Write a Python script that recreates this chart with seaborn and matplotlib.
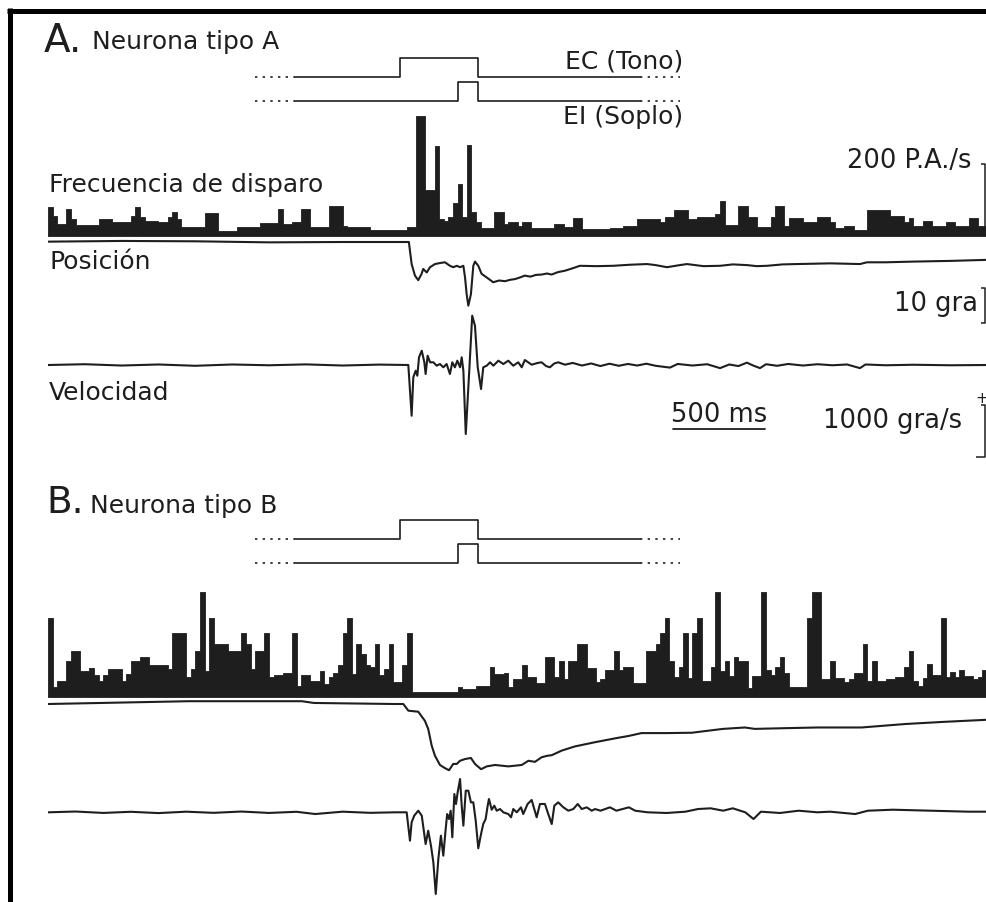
import matplotlib
matplotlib.use("Agg")
import matplotlib.pyplot as plt
from matplotlib.lines import Line2D
import numpy as np
import pandas as pd
import seaborn as sns

# time base (ms, 0 = tone onset)
T_START, T_END = -1900, 3200
BIN_MS = 25

# stimuli (ms)
TONE_ON, TONE_OFF = 10, 435
PUFF_ON, PUFF_OFF = 325, 435
STIM_START, STIM_END = -560, 1315
DOT_MS = 215

# firing rate histograms (P.A./s), one value per 25 ms bin
rate_a = [
    83, 57, 34, 34, 77, 49, 31, 31, 31, 31,
    31, 49, 49, 49, 40, 40, 40, 40, 57, 83,
    54, 43, 43, 43, 40, 40, 54, 69, 49, 26,
    26, 26, 26, 26, 66, 66, 66, 14, 14, 14,
    14, 26, 26, 26, 26, 26, 37, 37, 37, 37,
    77, 34, 34, 40, 40, 77, 77, 26, 26, 26,
    26, 86, 86, 86, 29, 26, 26, 26, 26, 26,
    17, 17, 17, 17, 17, 17, 17, 17, 26, 26,
    343, 343, 131, 131, 257, 49, 43, 54, 94, 149,
    54, 260, 69, 40, 23, 23, 23, 69, 69, 34,
    40, 40, 29, 40, 40, 23, 23, 23, 23, 23,
    34, 34, 26, 26, 51, 51, 20, 20, 20, 20,
    20, 20, 23, 23, 23, 29, 29, 29, 49, 49,
    49, 49, 49, 40, 54, 54, 74, 74, 74, 49,
    49, 54, 54, 54, 54, 63, 100, 31, 31, 31,
    86, 86, 54, 54, 26, 26, 26, 54, 86, 86,
    29, 51, 51, 51, 40, 40, 40, 54, 54, 54,
    40, 23, 23, 29, 29, 17, 17, 17, 74, 74,
    74, 74, 74, 57, 57, 57, 40, 51, 29, 29,
    43, 43, 29, 29, 29, 40, 40, 29, 29, 29,
    51, 51, 29, 29,
]
rate_b = [
    226, 29, 46, 46, 103, 131, 131, 74, 74, 83,
    63, 46, 63, 80, 80, 80, 46, 66, 103, 103,
    114, 114, 91, 91, 91, 91, 80, 183, 183, 183,
    57, 80, 131, 300, 74, 226, 151, 151, 151, 131,
    131, 131, 183, 151, 80, 131, 131, 183, 57, 63,
    63, 69, 69, 183, 31, 63, 63, 46, 46, 74,
    37, 57, 69, 91, 183, 226, 66, 151, 123, 91,
    86, 151, 63, 80, 151, 43, 43, 91, 183, 14,
    14, 14, 14, 14, 14, 14, 14, 14, 14, 29,
    23, 23, 23, 31, 31, 31, 86, 66, 66, 69,
    29, 51, 51, 91, 57, 57, 40, 40, 114, 114,
    57, 103, 51, 103, 103, 151, 151, 83, 83, 43,
    51, 77, 77, 131, 77, 86, 86, 40, 40, 40,
    131, 131, 151, 183, 226, 103, 57, 86, 183, 54,
    183, 226, 46, 46, 86, 300, 74, 103, 60, 114,
    103, 103, 26, 60, 60, 300, 77, 63, 86, 114,
    69, 29, 29, 29, 29, 226, 300, 300, 51, 51,
    103, 54, 54, 43, 51, 69, 69, 151, 46, 103,
    46, 46, 51, 51, 57, 57, 86, 131, 46, 31,
    54, 94, 63, 63, 226, 57, 71, 57, 77, 60,
    60, 51, 57, 77,
]

# eyelid position (deg) and velocity (deg/s), neuron A
pos_a_t = [-1900, -1500, -1100, -700, -300, 0, 60, 75, 93, 111, 129, 138, 157, 175,
           202, 230, 256, 283, 301, 320, 338, 356, 365, 374, 383, 397, 410, 419, 437,
           455, 482, 518, 550, 582, 610, 636, 660, 690, 720, 750, 781, 810, 835, 870,
           908, 950, 989, 1080, 1169, 1260, 1353, 1400, 1462, 1520, 1570, 1660, 1750,
           1820, 1896, 1950, 2005, 2090, 2168, 2260, 2347, 2430, 2510, 2548, 2650,
           2798, 3000, 3200]
pos_a = [0.1, 0.3, 0.2, -0.1, 0.0, 0.0, 0.0, -6.3, -9.6, -10.9, -9.1, -7.7, -8.7, -7.2,
         -6.3, -6.0, -5.8, -6.8, -7.2, -6.8, -7.2, -6.8, -10.1, -15.0, -18.2, -14.9, -6.8,
         -5.6, -6.8, -9.1, -10.1, -11.5, -11.0, -11.2, -10.8, -10.6, -10.2, -9.6, -9.9,
         -9.4, -9.3, -9.0, -9.3, -8.6, -8.2, -7.5, -6.8, -6.9, -6.8, -6.5, -6.3, -6.6,
         -7.2, -6.7, -6.3, -6.9, -6.8, -6.4, -6.6, -6.9, -6.8, -6.4, -6.3, -6.2, -6.1,
         -6.2, -6.3, -5.8, -5.8, -5.6, -5.4, -5.1]
vel_a_t = [-1900, -1700, -1500, -1300, -1100, -900, -700, -500, -300, -100, 57, 75, 84,
           97, 106, 115, 130, 144, 151, 162, 175, 193, 211, 229, 247, 265, 283, 296, 310,
           323, 338, 347, 356, 369, 387, 404, 419, 434, 452, 464, 483, 501, 519, 546,
           573, 600, 627, 654, 673, 690, 727, 760, 781, 805, 826, 850, 871, 908, 950,
           1000, 1050, 1100, 1150, 1200, 1250, 1300, 1350, 1400, 1478, 1520, 1600, 1680,
           1750, 1800, 1850, 1896, 1930, 1967, 2000, 2060, 2120, 2200, 2280, 2360, 2440,
           2510, 2540, 2650, 2800, 3000, 3200]
vel_a = [0, 15, -10, 10, -15, 10, -5, 12, -10, 8, 0, -975, -237, -110, -206, 148, 275,
         52, -173, 179, 52, 52, -13, 19, -44, 19, -173, 52, -44, 83, -44, 148, -110,
         -1327, -173, 948, 756, -44, -462, -44, -13, 52, -13, 83, 19, 83, -13, 52, -44,
         96, 6, 40, 52, -20, -44, 30, 52, 6, 40, -10, 30, -20, 25, -15, 20, -10, 25,
         -15, -50, 20, -10, 15, -60, 10, -20, 45, -10, -60, 15, -15, 20, -10, 15, -5,
         10, -60, 10, -5, 5, -5, 0]

# eyelid position (deg) and velocity (deg/s), neuron B
pos_b_t = [-1900, -1134, -521, -456, -15, 30, 57, 111, 147, 165, 184, 202, 229, 256,
           278, 301, 320, 338, 365, 397, 419, 452, 483, 528, 600, 673, 709, 745, 781,
           809, 836, 890, 962, 1071, 1180, 1255, 1323, 1460, 1596, 1766, 1885, 1938,
           2100, 2279, 2518, 2758, 2963, 3200]
pos_b = [0.0, 0.8, 0.8, 0.3, 0.0, 0.0, -1.9, -2.2, -4.8, -7.1, -11.9, -14.8, -17.4,
         -18.3, -18.9, -17.1, -17.1, -16.2, -15.7, -15.4, -17.1, -18.6, -17.8, -17.4,
         -17.8, -17.4, -16.2, -16.5, -15.2, -14.8, -14.6, -13.3, -12.1, -10.9, -9.8,
         -9.1, -8.3, -8.3, -8.2, -7.1, -6.7, -7.1, -6.9, -6.7, -6.7, -5.7, -5.1, -4.5]
vel_b_t = [-1900, -1750, -1600, -1450, -1300, -1150, -1000, -850, -700, -550, -449, -300,
           -150, -15, 48, 66, 75, 89, 111, 130, 151, 165, 180, 193, 206, 220, 234, 247,
           260, 268, 278, 287, 296, 307, 316, 325, 338, 347, 356, 369, 383, 397, 410,
           423, 437, 452, 464, 477, 488, 495, 510, 524, 537, 555, 573, 600, 615, 627,
           646, 669, 681, 705, 727, 741, 754, 772, 799, 817, 836, 850, 871, 899, 926,
           953, 977, 999, 1026, 1053, 1071, 1101, 1152, 1187, 1255, 1289, 1357, 1460,
           1562, 1630, 1699, 1767, 1819, 1887, 1932, 1972, 2075, 2177, 2279, 2348,
           2484, 2553, 2689, 2895, 3100, 3200]
vel_b = [0, 15, -12, 10, -15, 12, -10, 15, -12, 10, -33, 12, -10, 0, 0, -546, -192, -65,
         31, -65, -610, -354, -642, -962, -1571, -898, -449, -834, -321, -33, -129, 31,
         -481, 352, 160, 384, 640, 127, -257, 416, 416, 192, 192, -161, -692, -417, -225,
         -129, 127, 256, 50, 127, 31, 63, 0, -33, -96, 63, 0, 96, -33, 160, 237, 63,
         -96, 160, 160, -33, -225, 127, 192, 96, 31, 63, 160, 63, 96, 31, 63, 31, 96,
         31, 96, 31, 0, -13, 12, 63, 77, 31, 77, 0, -129, 12, -13, 31, 0, 12, -33, 31,
         50, 31, 12, 12]

# scale bars
SCALE_RATE = 200
SCALE_POS = 10
SCALE_VEL = 1000
SCALE_TIME = 500

W, H = 987, 903
INK = "#1e1e1e"
LEFT, RIGHT = 48, 987

sns.set_theme(style="white")
plt.rcParams["font.family"] = ["DejaVu Sans"]

fig = plt.figure(figsize=(W / 100, H / 100), dpi=100)
fig.patch.set_facecolor("white")


def panel_axes(top, bottom, ylim):
    ax = fig.add_axes([LEFT / W, 1 - bottom / H, (RIGHT - LEFT) / W, (bottom - top) / H])
    ax.set_xlim(T_START, T_END)
    ax.set_ylim(*ylim)
    ax.axis("off")
    ax.patch.set_alpha(0)
    return ax


def ftext(x, y, s, size=18, ha="left"):
    fig.text(x / W, 1 - y / H, s, fontsize=size, ha=ha, va="baseline", color=INK)


def draw_stim(ax):
    for on, off, level in [(TONE_ON, TONE_OFF, 0.533), (PUFF_ON, PUFF_OFF, 0.133)]:
        high = level + 0.317
        sns.lineplot(x=[STIM_START, on, on, off, off, STIM_END],
                     y=[level, level, high, high, level, level],
                     ax=ax, sort=False, estimator=None, color=INK, lw=1.2)
        for a, b in [(STIM_START - DOT_MS, STIM_START), (STIM_END, STIM_END + DOT_MS)]:
            ax.plot([a, b], [level, level], color=INK, lw=1.2, ls=(0, (1.4, 3.2)))


def draw_hist(ax, rates):
    edges = np.arange(T_START, T_END + 1, BIN_MS)
    df = pd.DataFrame({"t": edges[:-1] + BIN_MS / 2, "rate": rates})
    sns.histplot(data=df, x="t", weights="rate", bins=edges.tolist(), element="step",
                 fill=True, color=INK, alpha=1, linewidth=0.6, ax=ax)
    ax.plot([T_START, T_END], [3, 3], color=INK, lw=2.5, solid_capstyle="butt")


def draw_trace(ax, t, v):
    sns.lineplot(x=t, y=v, ax=ax, sort=False, estimator=None, color=INK, lw=1.5)


# ---- panel A ----
ax_sa = panel_axes(50, 110, (0, 1))
draw_stim(ax_sa)
ax_ha = panel_axes(110, 237, (0, 363))
draw_hist(ax_ha, rate_a)
ax_ha.set_ylim(0, 363)
ax_pa = panel_axes(236, 320, (-22, 2))
draw_trace(ax_pa, pos_a_t, pos_a)
ax_va = panel_axes(310, 445, (-1519, 1077))
draw_trace(ax_va, vel_a_t, vel_a)

# ---- panel B ----
ax_sb = panel_axes(512, 572, (0, 1))
draw_stim(ax_sb)
ax_hb = panel_axes(585, 698, (0, 323))
draw_hist(ax_hb, rate_b)
ax_hb.set_ylim(0, 323)
ax_pb = panel_axes(698, 780, (-21.4, 2))
draw_trace(ax_pb, pos_b_t, pos_b)
ax_vb = panel_axes(770, 903, (-1725, 833))
draw_trace(ax_vb, vel_b_t, vel_b)

for ax in fig.axes:
    ax.set_xlim(T_START, T_END)

# scale bars (drawn in data units of each trace)
xb = 3188
tick = 18
kw = dict(color=INK, lw=1.1, clip_on=False, solid_capstyle="butt")
ax_ha.plot([xb - tick, xb, xb], [5 + SCALE_RATE, 5 + SCALE_RATE, 5], **kw)
ax_pa.plot([xb - tick, xb, xb, xb - tick], [-13, -13, -13 - SCALE_POS, -13 - SCALE_POS], **kw)
ax_va.plot([xb - tick, xb, xb, xb - 50], [-760, -760, -760 - SCALE_VEL, -760 - SCALE_VEL], **kw)
ax_va.plot([1495, 1495 + SCALE_TIME], [-1231, -1231], color=INK, lw=1.3, clip_on=False)

# texts
ftext(44, 52, "A.", size=28)
ftext(92, 49, "Neurona tipo A")
ftext(683, 68, "EC (Tono)", ha="right")
ftext(683, 124, "EI (Soplo)", ha="right")
ftext(972, 168, "200 P.A./s", size=18.5, ha="right")
ftext(49, 192, "Frecuencia de disparo")
ftext(49, 269, "Posición")
ftext(978, 311, "10 gra", size=18.5, ha="right")
ftext(49, 400, "Velocidad")
ftext(719, 422, "500 ms", size=18.5, ha="center")
ftext(962, 428, "1000 gra/s", size=18.5, ha="right")
ftext(982, 403, "+", size=11, ha="center")
ftext(46, 513, "B.", size=27)
ftext(90, 513, "Neurona tipo B")

# frame
fig.add_artist(Line2D([7.5 / W, 1], [1 - 11.5 / H] * 2, color="black", lw=3.6,
                      solid_capstyle="butt", transform=fig.transFigure))
fig.add_artist(Line2D([10 / W] * 2, [0, 1 - 9 / H], color="black", lw=3.6,
                      solid_capstyle="butt", transform=fig.transFigure))

fig.savefig("out.png", dpi=100, facecolor="white")
